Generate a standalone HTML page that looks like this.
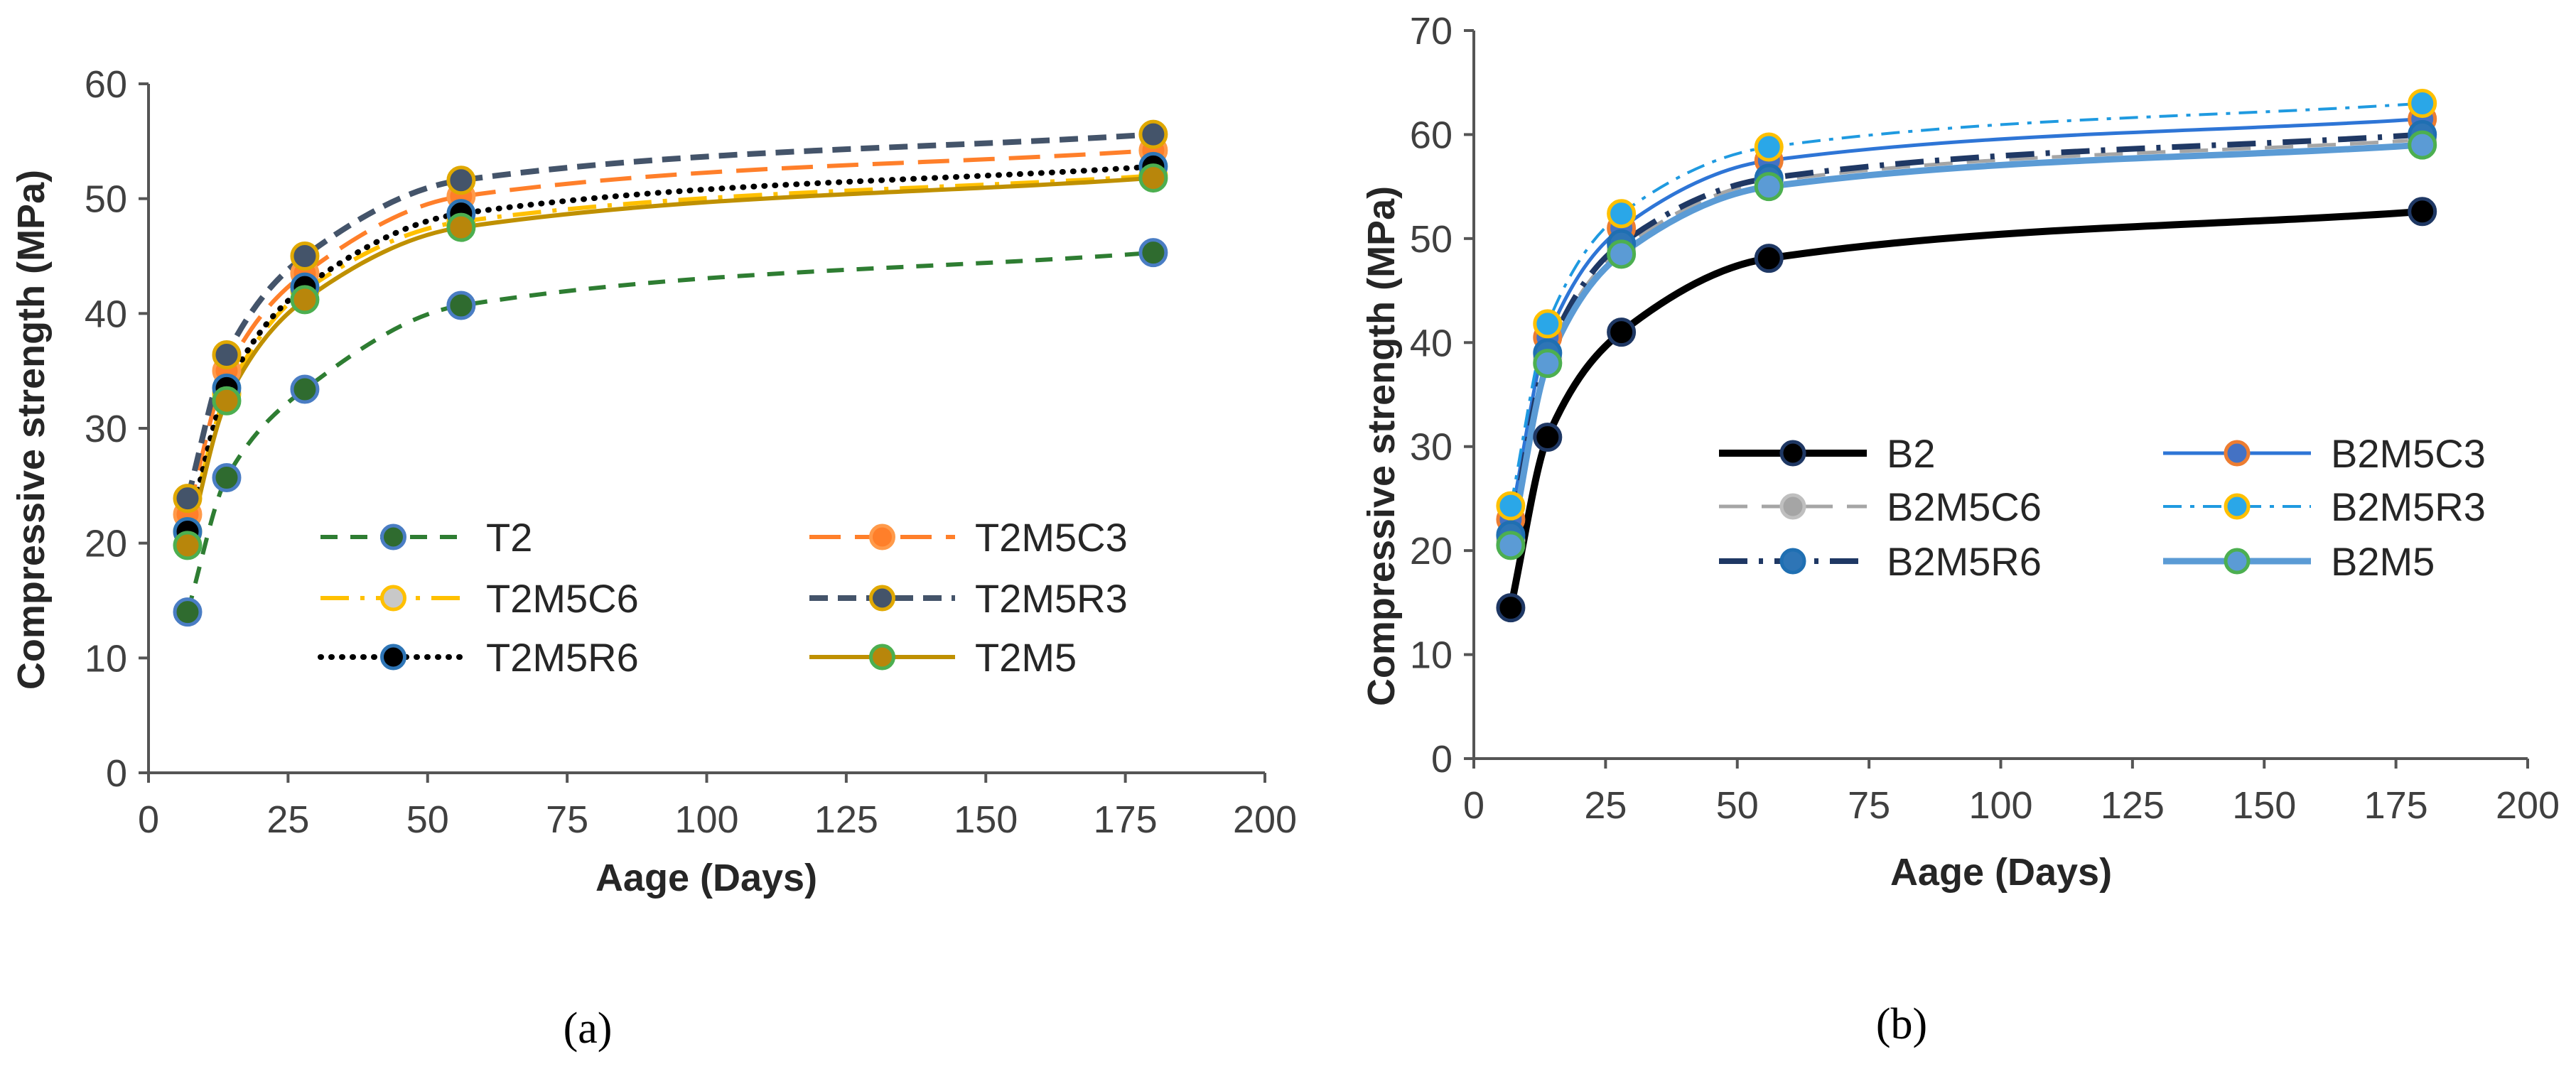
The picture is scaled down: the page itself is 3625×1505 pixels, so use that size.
<!DOCTYPE html>
<html><head><meta charset="utf-8">
<style>
html,body{margin:0;padding:0;background:#fff;}
svg{display:block;}
text{font-family:"Liberation Sans",sans-serif;}
text.serif{font-family:"Liberation Serif",serif;}
</style></head>
<body>
<svg id="svg" width="3625" height="1505" viewBox="0 0 3625 1505" xmlns="http://www.w3.org/2000/svg">
<rect width="3625" height="1505" fill="#fff"/>
</svg>
<script>
const ages = [7, 14, 28, 56, 180];
const xTicks = [0, 25, 50, 75, 100, 125, 150, 175, 200];
const yTicksA = [0, 10, 20, 30, 40, 50, 60];
const yTicksB = [0, 10, 20, 30, 40, 50, 60, 70];
const namesA = ["T2", "T2M5C3", "T2M5C6", "T2M5R3", "T2M5R6", "T2M5"];
const t2 = [14.0, 25.7, 33.4, 40.7, 45.3];
const t2m5c3 = [22.5, 35.0, 43.5, 50.2, 54.2];
const t2m5c6 = [21.0, 33.0, 42.0, 48.0, 52.0];
const t2m5r3 = [23.9, 36.4, 45.0, 51.6, 55.6];
const t2m5r6 = [21.0, 33.5, 42.3, 48.7, 52.8];
const t2m5 = [19.8, 32.4, 41.2, 47.5, 51.8];
const namesB = ["B2", "B2M5C3", "B2M5C6", "B2M5R3", "B2M5R6", "B2M5"];
const b2 = [14.5, 30.9, 41.0, 48.1, 52.6];
const b2m5c3 = [23.0, 40.5, 51.0, 57.5, 61.5];
const b2m5c6 = [21.0, 38.5, 49.0, 55.5, 59.5];
const b2m5r3 = [24.3, 41.8, 52.4, 58.8, 63.0];
const b2m5r6 = [21.5, 39.0, 49.5, 55.8, 60.0];
const b2m5 = [20.5, 38.0, 48.5, 55.0, 59.0];

const NS = "http://www.w3.org/2000/svg";
const svg = document.getElementById("svg");
function mk(tag, attrs, parent) {
  const e = document.createElementNS(NS, tag);
  for (const k in attrs) e.setAttribute(k, attrs[k]);
  (parent || svg).appendChild(e);
  return e;
}
// monotone cubic (Fritsch-Carlson) in pixel space
function spline(pts) {
  const n = pts.length, d = [], m = [];
  for (let i = 0; i < n - 1; i++) d.push((pts[i + 1][1] - pts[i][1]) / (pts[i + 1][0] - pts[i][0]));
  m[0] = d[0]; m[n - 1] = d[n - 2];
  for (let i = 1; i < n - 1; i++) {
    if (d[i - 1] * d[i] <= 0) m[i] = 0;
    else {
      const h0 = pts[i][0] - pts[i - 1][0], h1 = pts[i + 1][0] - pts[i][0];
      const w1 = 2 * h1 + h0, w2 = h1 + 2 * h0;
      m[i] = (w1 + w2) / (w1 / d[i - 1] + w2 / d[i]);
    }
  }
  let s = "M" + pts[0][0] + "," + pts[0][1];
  for (let i = 0; i < n - 1; i++) {
    const h = (pts[i + 1][0] - pts[i][0]) / 3;
    s += " C" + (pts[i][0] + h) + "," + (pts[i][1] + m[i] * h) + " " + (pts[i + 1][0] - h) + "," + (pts[i + 1][1] - m[i + 1] * h) + " " + pts[i + 1][0] + "," + pts[i + 1][1];
  }
  return s;
}

function chart(cfg) {
  const g = mk("g", {});
  
  
  const X = v => cfg.x0 + v / 200 * (cfg.x1 - cfg.x0);
  const Y = v => cfg.y0 - v / cfg.ymax * (cfg.y0 - cfg.y1);
  const ya = mk("line", {x1: cfg.x0, y1: Y(cfg.ymax), x2: cfg.x0, y2: cfg.y0, stroke: "#555", "stroke-width": 4}, g);
  
  
  const xa = mk("line", {x1: cfg.x0 - 14, y1: cfg.y0, x2: X(200), y2: cfg.y0, stroke: "#555", "stroke-width": 4}, g);
  
  
  cfg.yTicks.forEach(v => {
    mk("line", {x1: cfg.x0 - 14, y1: Y(v), x2: cfg.x0, y2: Y(v), stroke: "#555", "stroke-width": 4}, g);
    const t = mk("text", {x: cfg.x0 - 30, y: Y(v) + 19, "text-anchor": "end", "font-size": 54, fill: "#404040"}, g);
    t.textContent = v;
    
    
  });
  xTicks.forEach(v => {
    mk("line", {x1: X(v), y1: cfg.y0, x2: X(v), y2: cfg.y0 + 14, stroke: "#555", "stroke-width": 4}, g);
    const t = mk("text", {x: X(v), y: cfg.y0 + 84, "text-anchor": "middle", "font-size": 54, fill: "#404040"}, g);
    t.textContent = v;
    
    
  });
  const xt = mk("text", {x: cfg.xtx, y: cfg.xty, "text-anchor": "middle", "font-size": 54, "font-weight": "bold", fill: "#262626"}, g);
  xt.textContent = "Aage (Days)";
  
  
  const yt = mk("text", {x: 0, y: 0, "text-anchor": "middle", "font-size": 54, "font-weight": "bold", fill: "#262626", transform: "translate(" + cfg.ytx + "," + cfg.yty + ") rotate(-90)"}, g);
  yt.textContent = "Compressive strength (MPa)";
  
  
  cfg.series.forEach((s, i) => {
    const pts = ages.map((a, j) => [X(a), Y(s.data[j])]);
    const p = mk("path", {d: spline(pts), fill: "none", stroke: s.color, "stroke-width": s.w, "stroke-dasharray": s.dash || "none", "stroke-linecap": s.cap || "butt"}, g);
    
    
  });
  cfg.series.forEach((s, i) => {
    ages.forEach((a, j) => {
      const c = mk("circle", {cx: X(a), cy: Y(s.data[j]), r: 18, fill: s.mf, stroke: s.ms, "stroke-width": 5}, g);
      
      
    });
  });
  cfg.series.forEach((s, i) => {
    const col = i % 2, row = Math.floor(i / 2);
    const lx0 = cfg.leg.cols[col], ly = cfg.leg.rows[row];
    const lg = mk("g", {}, g);
    
    
    mk("line", {x1: lx0, y1: ly, x2: lx0 + cfg.leg.len, y2: ly, stroke: s.color, "stroke-width": s.w, "stroke-dasharray": s.dash || "none", "stroke-linecap": s.cap || "butt"}, lg);
    mk("circle", {cx: lx0 + cfg.leg.len / 2, cy: ly, r: 16, fill: s.mf, stroke: s.ms, "stroke-width": 5}, lg);
    const t = mk("text", {x: lx0 + cfg.leg.len + 28, y: ly + 20, "font-size": 56, fill: "#262626"}, lg);
    t.textContent = cfg.names[i];
  });
  const lab = mk("text", {x: cfg.labx, y: cfg.laby, "text-anchor": "middle", "font-size": 62, fill: "#000", "class": "serif"}, g);
  lab.textContent = cfg.label;
  
  
}

chart({
  id: "chart-a", x0: 209, x1: 1780, y0: 1088, y1: 118, ymax: 60, yTicks: yTicksA,
  xtx: 994, xty: 1254, ytx: 62, yty: 605, names: namesA, label: "(a)", labx: 827, laby: 1468,
  leg: {cols: [451, 1139], rows: [756, 842, 925], len: 205},
  series: [
    {data: t2, color: "#2e7d32", w: 6, dash: "24 18", mf: "#2f6b2f", ms: "#4a7dc4"},
    {data: t2m5c3, color: "#ff7f2a", w: 6, dash: "44 20", mf: "#ff7f2a", ms: "#ff9a4a"},
    {data: t2m5c6, color: "#ffc000", w: 6, dash: "40 16 6 16", mf: "#c8c8c8", ms: "#ffc000"},
    {data: t2m5r3, color: "#44546a", w: 8, dash: "26 14", mf: "#44546a", ms: "#e0a800"},
    {data: t2m5r6, color: "#000", w: 8, dash: "1 14", cap: "round", mf: "#000", ms: "#2e75b6"},
    {data: t2m5, color: "#bf9000", w: 6, mf: "#b8860b", ms: "#4caf50"}
  ]
});
chart({
  id: "chart-b", x0: 2074, x1: 3557, y0: 1068, y1: 43, ymax: 70, yTicks: yTicksB,
  xtx: 2816, xty: 1246, ytx: 1962, yty: 628, names: namesB, label: "(b)", labx: 2676, laby: 1462,
  leg: {cols: [2419, 3044], rows: [638, 713, 790], len: 208},
  series: [
    {data: b2, color: "#000", w: 10, mf: "#000", ms: "#1f3864"},
    {data: b2m5c3, color: "#2e75d6", w: 5, mf: "#4472c4", ms: "#ed7d31"},
    {data: b2m5c6, color: "#a5a5a5", w: 5, dash: "40 20", mf: "#a5a5a5", ms: "#bfbfbf"},
    {data: b2m5r3, color: "#1f9ae0", w: 4, dash: "26 12 6 12", mf: "#2aa7e8", ms: "#ffc000"},
    {data: b2m5r6, color: "#1f3864", w: 8, dash: "40 16 6 16", mf: "#2e75b6", ms: "#1f6fb2"},
    {data: b2m5, color: "#5b9bd5", w: 9, mf: "#5b9bd5", ms: "#4caf50"}
  ]
});
</script>
</body></html>
